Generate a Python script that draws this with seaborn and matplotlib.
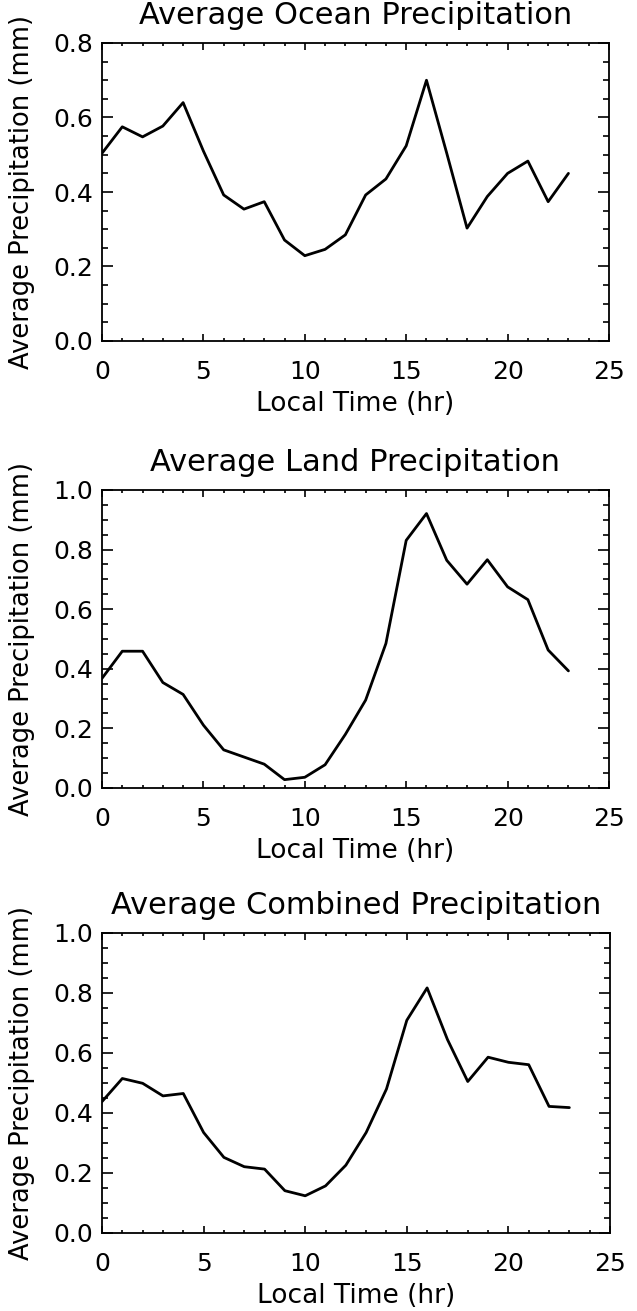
import numpy as np
import pandas as pd
import matplotlib
matplotlib.use("Agg")
import matplotlib.pyplot as plt
from matplotlib.ticker import MultipleLocator, FormatStrFormatter
import seaborn as sns

# Hourly diurnal-cycle averages (local time, hours 0-23)
hours = list(range(24))
ocean = [0.504, 0.575, 0.548, 0.577, 0.640, 0.510, 0.392, 0.354, 0.374, 0.271,
         0.229, 0.246, 0.285, 0.392, 0.435, 0.524, 0.700, 0.504, 0.303, 0.388,
         0.450, 0.483, 0.374, 0.450]
land = [0.368, 0.459, 0.459, 0.354, 0.314, 0.211, 0.128, 0.104, 0.080, 0.028,
        0.036, 0.078, 0.180, 0.295, 0.485, 0.831, 0.921, 0.764, 0.684, 0.766,
        0.675, 0.632, 0.463, 0.393]
combined = [0.438, 0.515, 0.499, 0.457, 0.465, 0.335, 0.252, 0.221, 0.213, 0.141,
            0.124, 0.157, 0.226, 0.335, 0.480, 0.709, 0.817, 0.645, 0.505, 0.586,
            0.569, 0.561, 0.422, 0.418]

titles = ["Average Ocean Precipitation",
          "Average Land Precipitation",
          "Average Combined Precipitation"]
ymaxes = [0.8, 1.0, 1.0]
series = [ocean, land, combined]

sns.set_style("ticks")
plt.rcParams["font.family"] = ["DejaVu Sans"]
plt.rcParams.update({"text.color": "black", "axes.labelcolor": "black",
                     "xtick.color": "black", "ytick.color": "black",
                     "axes.edgecolor": "black"})

W, H = 637, 1311
fig = plt.figure(figsize=(W / 100, H / 100), dpi=100)

# axes boxes in pixels: (left, top, right, bottom)
boxes = [(102, 43, 609, 341), (102, 490, 609, 788), (102, 933, 610, 1233)]

axes = []
for (l, t, r, b), title, ymax, vals in zip(boxes, titles, ymaxes, series):
    ax = fig.add_axes([l / W, 1 - b / H, (r - l) / W, (b - t) / H])
    df = pd.DataFrame({"hour": hours, "precip": vals})
    sns.lineplot(data=df, x="hour", y="precip", ax=ax, color="black",
                 linewidth=2.0, estimator=None)
    ax.set_xlim(0, 25)
    ax.set_ylim(0, ymax)
    ax.xaxis.set_major_locator(MultipleLocator(5))
    ax.xaxis.set_minor_locator(MultipleLocator(1))
    ax.yaxis.set_major_locator(MultipleLocator(0.2))
    ax.yaxis.set_minor_locator(MultipleLocator(0.05))
    ax.yaxis.set_major_formatter(FormatStrFormatter("%.1f"))
    ax.tick_params(which="both", direction="in", top=True, right=True,
                   width=1.2, color="black")
    ax.tick_params(axis="x", which="major", length=5, labelsize=18, pad=14)
    ax.tick_params(axis="x", which="minor", length=2.5)
    ax.tick_params(axis="y", which="major", length=8, labelsize=18, pad=6.5)
    ax.tick_params(axis="y", which="minor", length=4.3)
    for s in ax.spines.values():
        s.set_linewidth(1.3)
        s.set_color("black")
        s.set_visible(True)
    ax.set_title(title, fontsize=22, pad=14)
    ax.set_xlabel("Local Time (hr)", fontsize=19)
    ax.xaxis.set_label_coords(0.5, -50 / (b - t))
    ax.xaxis.label.set_va("top")
    ax.set_ylabel("Average Precipitation (mm)", fontsize=18.5)
    ax.yaxis.set_label_coords(-67 / (r - l), 0.5)
    axes.append(ax)

# keep the end labels of each y axis inside the frame
fig.canvas.draw()
for ax in axes:
    ticks = [tk for tk in ax.yaxis.get_major_ticks()
             if tk.label1.get_visible() and tk.label1.get_text()]
    ticks[0].label1.set_va("bottom")
    ticks[-1].label1.set_va("top")

fig.savefig("out.png", dpi=100, facecolor="white")
